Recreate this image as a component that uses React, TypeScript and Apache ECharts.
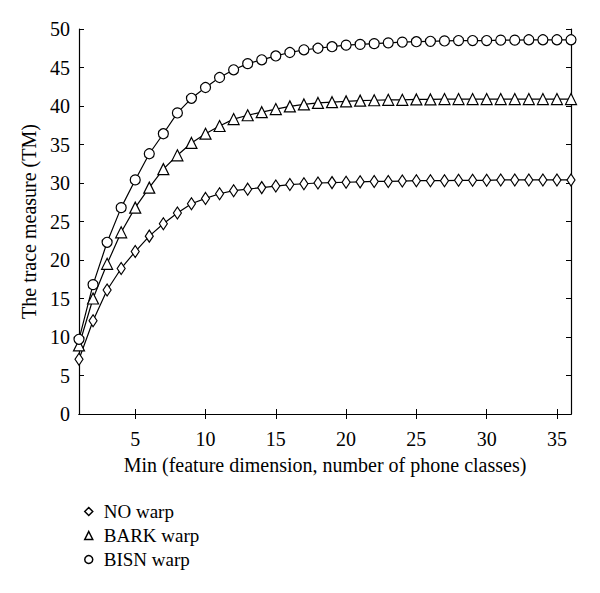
import React, { useEffect, useRef } from "react";
import * as echarts from "echarts";

const xValues: number[] = Array.from({ length: 36 }, (_, i) => i + 1);
const xTicks: number[] = [5, 10, 15, 20, 25, 30, 35];
const seriesNames: string[] = ["NO warp", "BARK warp", "BISN warp"];
const noWarp: number[] = [7.1, 12.1, 16.1, 18.9, 21.1, 23.1, 24.7, 26.1, 27.3, 28.0, 28.6, 29.0, 29.2, 29.4, 29.6, 29.8, 29.9, 30.0, 30.05, 30.1, 30.15, 30.2, 30.2, 30.25, 30.3, 30.3, 30.3, 30.35, 30.35, 30.35, 30.4, 30.4, 30.4, 30.4, 30.4, 30.4];
const barkWarp: number[] = [8.9, 15.0, 19.5, 23.6, 26.8, 29.4, 31.8, 33.6, 35.2, 36.4, 37.4, 38.3, 38.8, 39.2, 39.6, 39.95, 40.2, 40.4, 40.5, 40.6, 40.7, 40.75, 40.8, 40.8, 40.85, 40.85, 40.9, 40.9, 40.9, 40.9, 40.9, 40.9, 40.9, 40.9, 40.9, 40.9];
const bisnWarp: number[] = [9.7, 16.8, 22.3, 26.8, 30.4, 33.8, 36.4, 39.1, 41.0, 42.4, 43.7, 44.7, 45.5, 46.0, 46.5, 46.95, 47.3, 47.5, 47.7, 47.9, 48.0, 48.1, 48.2, 48.3, 48.35, 48.4, 48.45, 48.5, 48.5, 48.5, 48.55, 48.55, 48.6, 48.6, 48.6, 48.6];

const FONT = "'Liberation Serif', 'DejaVu Serif', serif";

export default function App() {
  const ref = useRef<HTMLDivElement>(null);
  useEffect(() => {
    if (!ref.current) return;
    const chart = echarts.init(ref.current, undefined, { renderer: "svg" });
    const symbols = ["diamond", "triangle", "circle"];
    const sizes: any[] = [[8, 12], 11, 10];
    const datas = [noWarp, barkWarp, bisnWarp];
    const axisLine = { show: true, lineStyle: { color: "#000", width: 1.2 } };
    const tick = { show: true, inside: true, length: 5, lineStyle: { color: "#000", width: 1 } };
    chart.setOption({
      animation: false,
      backgroundColor: "#fff",
      grid: { left: 79, right: 29, top: 29, bottom: 179 },
      legend: {
        orient: "vertical",
        left: 79,
        top: 497,
        itemGap: 5,
        itemWidth: 8,
        itemHeight: 8,
        textStyle: { fontFamily: FONT, fontSize: 19, color: "#000", padding: [0, 0, 0, 6] },
        data: seriesNames.map((n, i) => ({
          name: n,
          icon: symbols[i],
          itemStyle: { color: "#fff", borderColor: "#000", borderWidth: 1.5 },
        })),
      },
      xAxis: [
        {
          type: "value",
          min: 1,
          max: 36,
          position: "bottom",
          axisLine,
          axisTick: { ...tick, customValues: xTicks },
          axisLabel: { customValues: xTicks, fontFamily: FONT, fontSize: 20, color: "#000", margin: 15 },
          splitLine: { show: false },
          name: "Min (feature dimension, number of phone classes)",
          nameLocation: "middle",
          nameGap: 41,
          nameTextStyle: { fontFamily: FONT, fontSize: 20, color: "#000" },
        },
        {
          type: "value",
          min: 1,
          max: 36,
          position: "top",
          axisLine,
          axisTick: { ...tick, customValues: xTicks },
          axisLabel: { show: false },
          splitLine: { show: false },
        },
      ],
      yAxis: [
        {
          type: "value",
          min: 0,
          max: 50,
          interval: 5,
          position: "left",
          axisLine,
          axisTick: tick,
          axisLabel: { fontFamily: FONT, fontSize: 20, color: "#000", margin: 9 },
          splitLine: { show: false },
          name: "The trace measure (TM)",
          nameLocation: "middle",
          nameGap: 39,
          nameTextStyle: { fontFamily: FONT, fontSize: 20, color: "#000" },
        },
        {
          type: "value",
          min: 0,
          max: 50,
          interval: 5,
          position: "right",
          axisLine,
          axisTick: tick,
          axisLabel: { show: false },
          splitLine: { show: false },
        },
      ],
      series: seriesNames.map((n, i) => ({
        name: n,
        type: "line",
        data: xValues.map((x, j) => [x, datas[i][j]]),
        symbol: symbols[i],
        symbolSize: sizes[i],
        showAllSymbol: true,
        lineStyle: { color: "#000", width: 1.2 },
        itemStyle: { color: "#fff", borderColor: "#000", borderWidth: 1.2 },
        emphasis: { disabled: true },
        z: 3,
      })),
    });
    return () => chart.dispose();
  }, []);
  return <div ref={ref} style={{ width: 600, height: 593, position: "absolute", left: 0, top: 0 }} />;
}
